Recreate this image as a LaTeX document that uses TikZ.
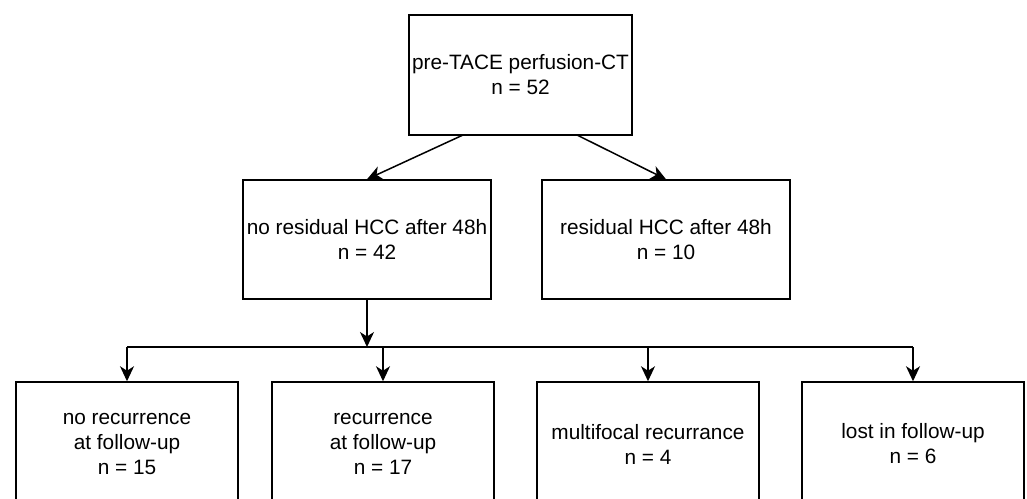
\documentclass[tikz,border=0pt]{standalone}
\usepackage{fontspec}
\setmainfont{Liberation Sans}
\usetikzlibrary{arrows.meta}
\begin{document}
\begin{tikzpicture}[x=1pt,y=-1pt,
  box/.style={draw=black, line width=1.5pt, align=center, inner sep=0pt,
    font=\fontsize{20.8}{25}\selectfont, text=black},
  conn/.style={draw=black, line width=1.5pt},
  arr/.style={conn, -{Stealth[length=15pt,width=14pt,inset=4.5pt]}}]
\useasboundingbox (0,0) rectangle (1027,498);
\clip (0,0) rectangle (1027,498);
\node[box, minimum width=223pt, minimum height=120pt] (top) at (520.5,75) {pre-TACE perfusion-CT\\n = 52};
\node[box, minimum width=248pt, minimum height=119pt] (nores) at (367,239.5) {no residual HCC after 48h\\n = 42};
\node[box, minimum width=248pt, minimum height=119pt] (res) at (666,239.5) {residual HCC after 48h\\n = 10};
\node[box, minimum width=222pt, minimum height=124pt] (b1) at (127,444) {no recurrence\\at follow-up\\n = 15};
\node[box, minimum width=222pt, minimum height=124pt] (b2) at (383,444) {recurrence\\at follow-up\\n = 17};
\node[box, minimum width=222pt, minimum height=124pt] (b3) at (648,444) {multifocal recurrance\\n = 4};
\node[box, minimum width=222pt, minimum height=124pt] (b4) at (913,444) {lost in follow-up\\n = 6};
\coordinate (tl) at (463,135);
\coordinate (tr) at (577,135);
\coordinate (j) at (367,347);
\draw[arr] (tl) -- (nores.north);
\draw[arr] (tr) -- (res.north);
\draw[arr] (nores.south) -- (j);
\draw[conn] (b1.north |- j) -- (b4.north |- j);
\draw[arr] (b1.north |- j) -- (b1.north);
\draw[arr] (b2.north |- j) -- (b2.north);
\draw[arr] (b3.north |- j) -- (b3.north);
\draw[arr] (b4.north |- j) -- (b4.north);
\end{tikzpicture}
\end{document}
